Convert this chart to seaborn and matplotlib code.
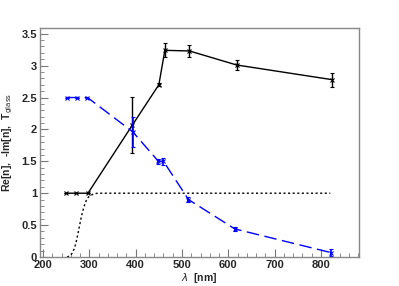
import numpy as np
import pandas as pd
import seaborn as sns
import matplotlib.pyplot as plt
from matplotlib.ticker import MultipleLocator

# wavelength points [nm]
lam = [250, 272, 297, 393, 450, 463, 516, 618, 824]
lam_im = [251, 273, 296, 394, 449, 460, 514, 614, 821]

# Re[n] with errors
re_n = [1.0, 1.0, 1.0, 2.07, 2.70, 3.24, 3.23, 3.01, 2.78]
re_err = [0, 0, 0, 0.44, 0.02, 0.11, 0.10, 0.08, 0.11]

# -Im[n] with errors
im_n = [2.5, 2.5, 2.5, 1.96, 1.50, 1.50, 0.90, 0.44, 0.07]
im_err = [0, 0, 0, 0.24, 0.04, 0.05, 0.04, 0.03, 0.06]

# glass transmission curve
t_lam = [252, 258, 263, 268, 273, 278, 283, 288, 293, 298, 304, 310, 318, 340, 820]
t_glass = [0.0, 0.02, 0.06, 0.14, 0.28, 0.46, 0.64, 0.78, 0.88, 0.94, 0.97, 0.99, 1.0, 1.0, 1.0]

sns.set_style('white')
plt.rcParams['font.family'] = ['Liberation Sans', 'DejaVu Sans']

fig = plt.figure(figsize=(3.99, 2.86), dpi=100)
ax = fig.add_axes([40/399, 29/286, 319/399, 229/286])

df_re = pd.DataFrame({'lam': lam, 'val': re_n})
df_im = pd.DataFrame({'lam': lam_im, 'val': im_n})
df_t = pd.DataFrame({'lam': t_lam, 'val': t_glass})

sns.lineplot(data=df_t, x='lam', y='val', ax=ax, color='black', lw=1.0,
             linestyle=(0, (1.5, 1.8)), sort=False)
sns.lineplot(data=df_re, x='lam', y='val', ax=ax, color='black', lw=1.0, sort=False)
ax.plot(lam[:3], re_n[:3], ls='none', marker='x', ms=3.5, mew=0.8, color='black')
ax.plot(lam[3:], re_n[3:], ls='none', marker='x', ms=2.5, mew=0.8, color='black')
ax.errorbar(lam, re_n, yerr=re_err, fmt='none', ecolor='black', elinewidth=1.0,
            capsize=1.5, capthick=0.8)
sns.lineplot(data=df_im, x='lam', y='val', ax=ax, color='blue', lw=1.0, sort=False)
ax.lines[-1].set_dashes((9, 4))
ax.plot(lam_im[:3], im_n[:3], ls='none', marker='x', ms=3.5, mew=0.8, color='blue')
ax.plot(lam_im[3:], im_n[3:], ls='none', marker='x', ms=2.5, mew=0.8, color='blue')
ax.errorbar(lam_im, im_n, yerr=im_err, fmt='none', ecolor='blue', elinewidth=1.2,
            capsize=1.5, capthick=0.8)

ax.set_xlim(193.5, 882)
ax.set_ylim(0, 3.59)
ax.xaxis.set_minor_locator(MultipleLocator(20))
ax.yaxis.set_minor_locator(MultipleLocator(0.1))
ax.set_xticks([200, 300, 400, 500, 600, 700, 800])
ax.set_xticklabels(['200', '300', '400', '500', '600', '700', '800'], fontweight='bold')
ax.set_yticks([0, 0.5, 1, 1.5, 2, 2.5, 3, 3.5])
ax.set_yticklabels(['0', '0.5', '1', '1.5', '2', '2.5', '3', '3.5'], fontweight='bold')
ax.tick_params(which='both', direction='in', bottom=True, left=True,
               top=False, right=False, color='#777777', labelsize=8, pad=2)
ax.tick_params(which='major', length=6, width=0.8)
ax.tick_params(which='minor', length=3, width=0.6)

for side in ['top', 'right', 'left', 'bottom']:
    ax.spines[side].set_color('#888888')
    ax.spines[side].set_linewidth(1.0)

ax.set_xlabel(r'$\lambda$  [nm]', fontsize=7.5, fontweight='bold', labelpad=1)
ax.set_ylabel(r'Re[n],  -Im[n],  T$_{\rm glass}$', fontsize=7.5,
              fontweight='bold', labelpad=5)

fig.savefig('out.png', dpi=100)
